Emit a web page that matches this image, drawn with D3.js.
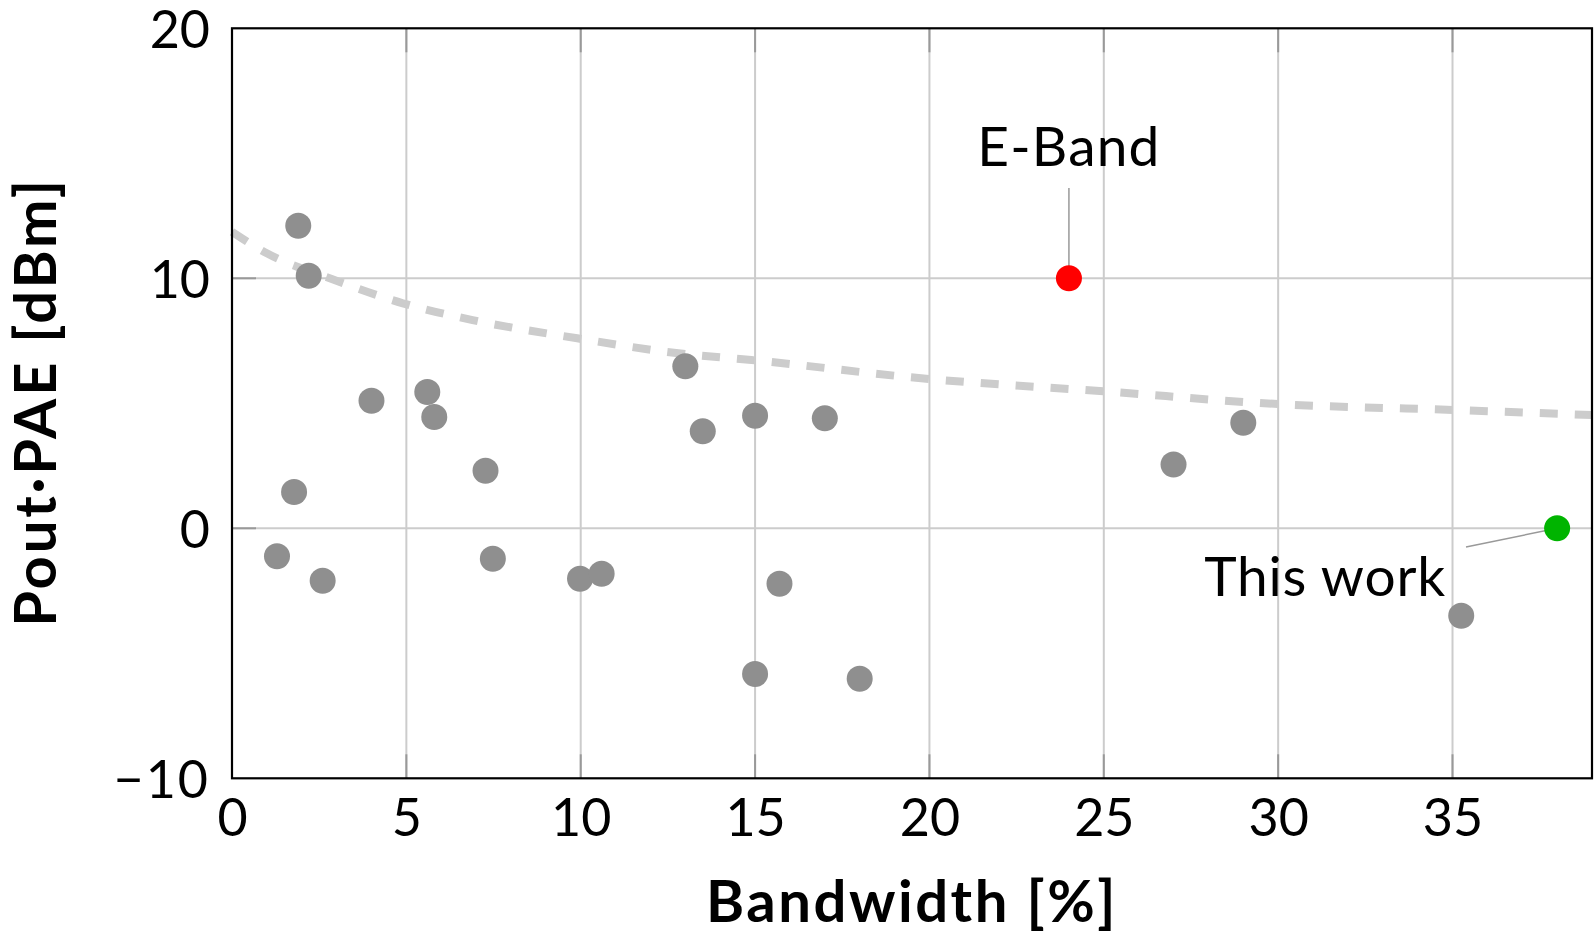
<!DOCTYPE html>
<html>
<head>
<meta charset="utf-8">
<script src="https://cdn.jsdelivr.net/npm/d3@7/dist/d3.min.js"></script>
<style>
  html, body { margin: 0; padding: 0; background: #fff; }
  svg { display: block; }
  text { font-family: Lato, "Noto Sans", sans-serif; fill: #000; }
</style>
</head>
<body>
<svg id="chart" width="1594" height="937"></svg>
<script>
// ---- data ----
const otherBW  = [1.9, 2.2, 4.0, 5.6, 5.8, 7.27, 1.78, 1.29, 2.6, 7.48, 9.98, 10.6, 13.0, 13.5, 15.0, 17.0, 15.7, 15.0, 18.0, 27.0, 29.0, 35.25];
const otherVal = [12.1, 10.1, 5.1, 5.45, 4.45, 2.3, 1.45, -1.12, -2.1, -1.22, -2.02, -1.82, 6.48, 3.88, 4.5, 4.4, -2.22, -5.83, -6.02, 2.55, 4.22, -3.5];

const eBandBW = [24];
const eBandVal = [10];
const thisWorkBW = [38];
const thisWorkVal = [0];

// trend (dashed) curve
const trendBW  = [0, 1, 2.9, 4.9, 6.9, 9.9, 12.8, 14.9, 20, 25, 30, 35.1, 39];
const trendVal = [11.86, 11.0, 9.95, 9.0, 8.33, 7.6, 7.0, 6.73, 5.97, 5.48, 4.97, 4.73, 4.53];

const xTicks = [0, 5, 10, 15, 20, 25, 30, 35];
const yTicks = [-10, 0, 10, 20];

const xLabel = "Bandwidth [%]";
const yLabel = "Pout·PAE [dBm]";

// ---- layout ----
const svg = d3.select("#chart");
const L = 232, R = 1592, T = 28.3, B = 778.3;

const x = d3.scaleLinear().domain([0, 39]).range([L, R]);
const y = d3.scaleLinear().domain([-10, 20]).range([B, T]);

// grid
const grid = svg.append("g");
grid.selectAll("line.gx").data(xTicks.filter(d => d > 0)).enter().append("line")
  .attr("x1", d => x(d)).attr("x2", d => x(d)).attr("y1", T).attr("y2", B)
  .attr("stroke", "#cccccc").attr("stroke-width", 2);
grid.selectAll("line.gy").data(yTicks.filter(d => d > -10 && d < 20)).enter().append("line")
  .attr("x1", L).attr("x2", R).attr("y1", d => y(d)).attr("y2", d => y(d))
  .attr("stroke", "#cccccc").attr("stroke-width", 2);

// inner ticks (darker)
const tk = svg.append("g").attr("stroke", "#999").attr("stroke-width", 2);
xTicks.filter(d => d > 0).forEach(d => {
  tk.append("line").attr("x1", x(d)).attr("x2", x(d)).attr("y1", B).attr("y2", B - 24);
  tk.append("line").attr("x1", x(d)).attr("x2", x(d)).attr("y1", T).attr("y2", T + 24);
});
yTicks.filter(d => d > -10 && d < 20).forEach(d => {
  tk.append("line").attr("x1", L).attr("x2", L + 24).attr("y1", y(d)).attr("y2", y(d));
});

// dashed trend
const line = d3.line().x(d => x(d[0])).y(d => y(d[1])).curve(d3.curveMonotoneX);
svg.append("path")
  .datum(trendBW.map((b, i) => [b, trendVal[i]]))
  .attr("d", line)
  .attr("fill", "none")
  .attr("stroke", "#cccccc")
  .attr("stroke-width", 8)
  .attr("stroke-dasharray", "18 17");

// frame
svg.append("rect").attr("x", L).attr("y", T).attr("width", R - L).attr("height", B - T)
  .attr("fill", "none").attr("stroke", "#000").attr("stroke-width", 2.2);

// axes tick labels via d3 axes (no domain / tick lines)
const fmt = d => (d < 0 ? "\u2212" + Math.abs(d) : String(d));
const gx = svg.append("g").attr("transform", `translate(0,${B})`)
  .call(d3.axisBottom(x).tickValues(xTicks).tickFormat(fmt).tickSize(0).tickPadding(0));
gx.select(".domain").remove();
gx.selectAll("text").attr("font-size", 52).attr("font-family", "Lato").attr("dy", null).attr("y", 58).attr("fill", "#000");

const gy = svg.append("g").attr("transform", `translate(${L},0)`)
  .call(d3.axisLeft(y).tickValues(yTicks).tickFormat(fmt).tickSize(0).tickPadding(0));
gy.select(".domain").remove();
gy.selectAll("text").attr("font-size", 52).attr("font-family", "Lato").attr("x", -22).attr("dy", "0.36em").attr("fill", "#000")
  .attr("letter-spacing", d => d < 0 ? 2 : 0);

// axis titles
svg.append("text").attr("x", (L + R) / 2).attr("y", 922).attr("text-anchor", "middle")
  .attr("font-size", 58).attr("font-weight", "bold").attr("letter-spacing", 2.5).text(xLabel);
svg.append("text").attr("transform", `translate(56,402) rotate(-90)`).attr("text-anchor", "middle")
  .attr("font-size", 58).attr("font-weight", "bold").attr("letter-spacing", 2.8).text(yLabel);

// other points
svg.append("g").selectAll("circle").data(otherBW.map((b, i) => [b, otherVal[i]])).enter()
  .append("circle").attr("cx", d => x(d[0])).attr("cy", d => y(d[1])).attr("r", 13).attr("fill", "#8f8f8f");

// E-Band
svg.append("line").attr("x1", x(eBandBW[0])).attr("x2", x(eBandBW[0]))
  .attr("y1", 188).attr("y2", y(eBandVal[0])).attr("stroke", "#999").attr("stroke-width", 1.5);
svg.append("circle").attr("cx", x(eBandBW[0])).attr("cy", y(eBandVal[0])).attr("r", 13).attr("fill", "#ff0000");
svg.append("text").attr("x", x(eBandBW[0])).attr("y", 166).attr("text-anchor", "middle")
  .attr("font-size", 55).attr("letter-spacing", 1.2).text("E-Band");

// This work
svg.append("line").attr("x1", 1466).attr("y1", 547).attr("x2", x(thisWorkBW[0])).attr("y2", y(thisWorkVal[0]))
  .attr("stroke", "#999").attr("stroke-width", 1.5);
svg.append("circle").attr("cx", x(thisWorkBW[0])).attr("cy", y(thisWorkVal[0])).attr("r", 13).attr("fill", "#00b400");
svg.append("text").attr("x", 1446).attr("y", 596).attr("text-anchor", "end")
  .attr("font-size", 55).attr("letter-spacing", 0.8).text("This work");
</script>
</body>
</html>
